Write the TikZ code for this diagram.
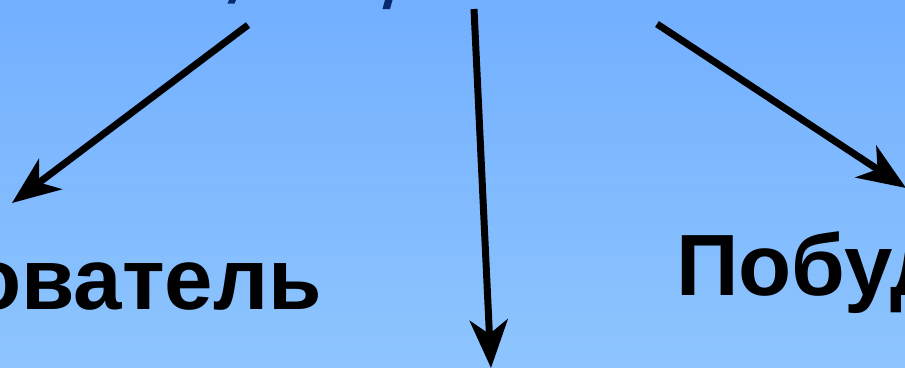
\documentclass[tikz,border=0pt]{standalone}
\usepackage{fontspec}
\setmainfont{Liberation Sans}
\usetikzlibrary{arrows.meta}

\begin{document}
\begin{tikzpicture}[
    x=1pt, y=-1pt,
    every node/.style={font=\fontsize{87}{90}\selectfont\bfseries, inner sep=0pt},
    pointer/.style={line width=7pt,
        -{Stealth[length=48pt, width=38pt, inset=14pt]}},
]

\definecolor{bgtop}{HTML}{72AFFF}
\definecolor{bgbottom}{HTML}{8EC5FE}
\definecolor{headblue}{HTML}{0A2A6E}   % the heading above, cut off

% ---------------------------------------------------------------- frame
\useasboundingbox (0,0) rectangle (905,367);
\clip (0,0) rectangle (905,367);
\shade[top color=bgtop, bottom color=bgbottom] (0,0) rectangle (905,367);

% ---------------------------------------------------------------- heading (only its tails show)
\fill[headblue] (229,0) -- (236,0) -- (234.5,3.5) -- (227.5,3.5) -- cycle;
\fill[headblue] (385,0) -- (392.5,0) -- (390,9) -- (382.5,9) -- cycle;

% ---------------------------------------------------------------- words
\node[anchor=base east] (seeker) at (322,309) {ователь};
\node[anchor=base west] (motive) at (676,295) {Побуд};

% ---------------------------------------------------------------- arrows
\coordinate (srcl) at (248,25);
\coordinate (srcm) at (474,9);
\coordinate (srcr) at (657,24);
\coordinate (tgtl) at (12,203);
\coordinate (tgtm) at (491,368);
\coordinate (tgtr) at (906,188);

\draw[pointer] (srcl) -- (tgtl);
\draw[pointer] (srcm) -- (tgtm);
\draw[pointer] (srcr) -- (tgtr);

\end{tikzpicture}
\end{document}
